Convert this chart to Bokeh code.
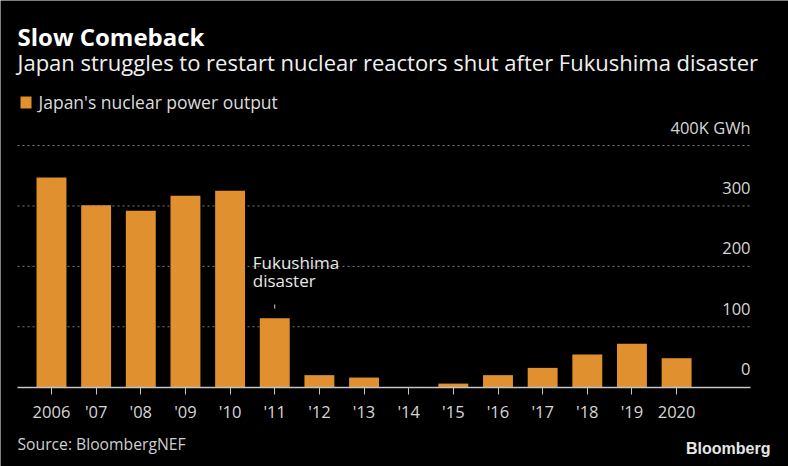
from bokeh.plotting import figure
from bokeh.models import Label, FixedTicker, BoxAnnotation, ColumnDataSource, Range1d, LinearAxis
from bokeh.core.properties import value
from bokeh.embed import file_html
from bokeh.resources import INLINE

# ---- data ----
years = [2006, 2007, 2008, 2009, 2010, 2011, 2012, 2013, 2014, 2015, 2016, 2017, 2018, 2019, 2020]
output_twh = [347, 301, 292, 317, 325, 114, 20, 16, 0, 6, 20, 32, 54, 72, 48]
x_tick_labels = ["2006", "'07", "'08", "'09", "'10", "'11", "'12", "'13", "'14", "'15",
                 "'16", "'17", "'18", "'19", "2020"]
y_ticks = [0, 100, 200, 300, 400]
y_tick_labels = ["0", "100", "200", "300", "400K GWh"]
annot_year = 2011
annot_lines = ["Fukushima", "disaster"]

ORANGE = "#E0902E"
FONT = "Open Sans"

W, H = 788, 466
X_LO, X_HI = 2005.239, 2021.655      # extent of axis line / grid lines

p = figure(width=W, height=H, output_backend="svg", toolbar_location=None,
           x_range=Range1d(2004.858, 2022.506), y_range=Range1d(-131.2, 640.0),
           x_axis_location=None, y_axis_location=None,
           min_border_left=0, min_border_right=0, min_border_top=0, min_border_bottom=0)
p.background_fill_color = "black"
p.border_fill_color = "black"
p.outline_line_color = None
p.grid.visible = False

# dotted grid lines
gy = y_ticks[1:]
p.segment(x0=[X_LO] * len(gy), x1=[X_HI] * len(gy), y0=gy, y1=gy,
          line_color="#7a7a7a", line_dash="2 3", line_width=1)

src = ColumnDataSource(dict(x=years, top=output_twh))
p.vbar(x="x", top="top", width=0.67, source=src, fill_color=ORANGE, line_color=None)

ax = LinearAxis(fixed_location=0)
ax.ticker = FixedTicker(ticks=years)
ax.bounds = (X_LO, X_HI)
ax.major_label_overrides = {y: l for y, l in zip(years, x_tick_labels)}
ax.axis_line_color = "#c4c4c4"
ax.axis_line_width = 1.5
ax.major_tick_line_color = "#c4c4c4"
ax.major_tick_out = 7
ax.major_tick_in = 0
ax.minor_tick_out = 0
ax.minor_tick_in = 0
ax.major_label_standoff = 6
ax.major_label_text_color = "#d6d6d6"
ax.major_label_text_font = FONT
ax.major_label_text_font_size = "16.5px"
p.add_layout(ax, "below")

# y tick labels inside the plot, right aligned above grid lines
ysrc = ColumnDataSource(dict(x=[X_HI] * len(y_ticks), y=y_ticks, t=y_tick_labels))
p.text(x="x", y="y", text="t", source=ysrc, text_align="right", text_baseline="middle",
       y_offset=-18, text_color="#d6d6d6", text_font=value(FONT), text_font_size="16.5px")

# annotation
bar_top_11 = output_twh[years.index(annot_year)]
p.segment(x0=[annot_year], y0=[bar_top_11 + 16], x1=[annot_year], y1=[bar_top_11 + 23],
          line_color="#d6d6d6", line_width=1)
p.text(x=[annot_year], y=[bar_top_11 + 93], text=[annot_lines[0]], x_offset=-22,
       text_baseline="middle", text_color="#e8e8e8", text_font=value(FONT), text_font_size="17px")
p.text(x=[annot_year], y=[bar_top_11 + 63], text=[annot_lines[1]], x_offset=-22,
       text_baseline="middle", text_color="#e8e8e8", text_font=value(FONT), text_font_size="17px")

def sy(fig_y):
    return H - fig_y

p.add_layout(Label(x=17, y=sy(35.5), x_units="screen", y_units="screen", text="Slow Comeback",
                   text_font=FONT, text_font_style="bold", text_font_size="24px",
                   text_color="white", text_baseline="middle"))
p.add_layout(Label(x=17, y=sy(61.5), x_units="screen", y_units="screen",
                   text="Japan struggles to restart nuclear reactors shut after Fukushima disaster",
                   text_font=FONT, text_font_size="22px", text_color="#f0f0f0", text_baseline="middle"))
p.add_layout(BoxAnnotation(left=20, right=31, top=sy(96), bottom=sy(108),
                           left_units="screen", right_units="screen", top_units="screen", bottom_units="screen",
                           fill_color=ORANGE, fill_alpha=1, line_color=None))
p.add_layout(Label(x=38, y=sy(101), x_units="screen", y_units="screen",
                   text="Japan's nuclear power output",
                   text_font=FONT, text_font_size="17.5px", text_color="#dcdcdc", text_baseline="middle"))
p.add_layout(Label(x=17, y=sy(443), x_units="screen", y_units="screen",
                   text="Source: BloombergNEF",
                   text_font=FONT, text_font_size="15.7px", text_color="#cfcfcf", text_baseline="middle"))
p.add_layout(Label(x=770, y=sy(448.3), x_units="screen", y_units="screen",
                   text="Bloomberg", text_align="right",
                   text_font="Liberation Sans", text_font_style="bold", text_font_size="16px",
                   text_color="#e6e6e6", text_baseline="middle"))

open("out.html", "w").write(file_html(p, INLINE))
